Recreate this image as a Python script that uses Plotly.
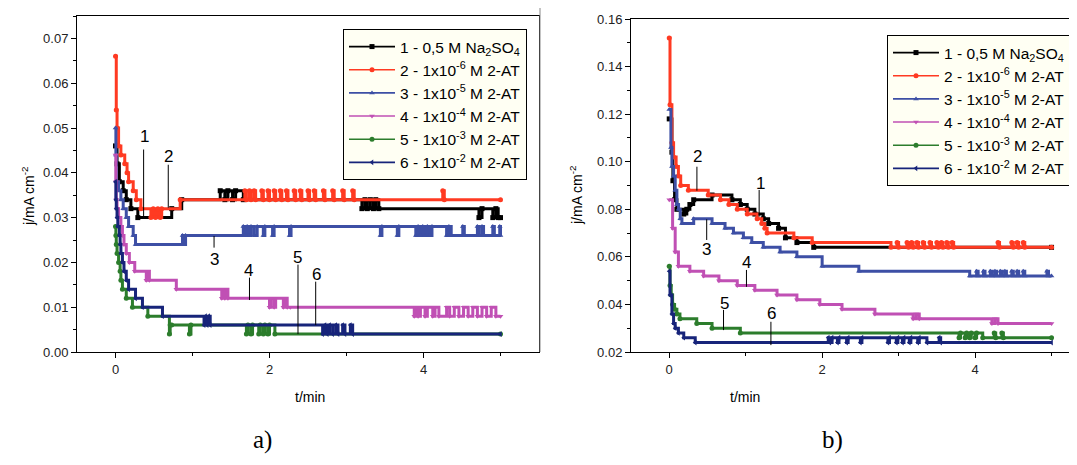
import plotly.graph_objects as go

# ---------------- data : panel a) ----------------
a1_t = [0, 0.02, 0.05, 0.10, 0.14, 0.20, 0.29, 0.73, 0.86, 1.36, 1.42, 1.46, 1.52, 1.56, 1.66,
        3.20, 3.24, 3.27, 3.31, 3.35, 3.38, 3.42, 4.72, 4.76, 4.90, 4.94, 4.97, 5.0]
a1_j = [0.046, 0.042, 0.038, 0.036, 0.034, 0.032, 0.030, 0.032, 0.034, 0.036, 0.034, 0.036, 0.034, 0.036, 0.034,
        0.032, 0.034, 0.032, 0.034, 0.032, 0.034, 0.032, 0.030, 0.032, 0.030, 0.032, 0.030, 0.030]

a2_t = [0, 0.01, 0.02, 0.04, 0.07, 0.12, 0.15, 0.17, 0.23, 0.27, 0.33, 0.46, 0.49, 0.52, 0.55, 0.58, 0.60, 0.84,
        1.68, 1.70, 1.74, 1.76, 1.80, 1.82, 1.90, 1.92, 1.98, 2.00, 2.06, 2.08, 2.14, 2.16, 2.22, 2.24, 2.32, 2.34,
        2.40, 2.42, 2.50, 2.52, 2.58, 2.60, 2.70, 2.72, 2.82, 2.84, 2.95, 2.97, 3.08, 3.10, 4.25, 4.27, 5.0]
a2_j = [0.066, 0.054, 0.050, 0.046, 0.044, 0.042, 0.040, 0.038, 0.036, 0.034, 0.032, 0.030, 0.032, 0.030, 0.032, 0.030, 0.032, 0.034,
        0.036, 0.034, 0.036, 0.034, 0.036, 0.034, 0.036, 0.034, 0.036, 0.034, 0.036, 0.034, 0.036, 0.034, 0.036, 0.034, 0.036, 0.034,
        0.036, 0.034, 0.036, 0.034, 0.036, 0.034, 0.036, 0.034, 0.036, 0.034, 0.036, 0.034, 0.036, 0.034, 0.036, 0.034, 0.034]

a3_t = [0, 0.005, 0.01, 0.04, 0.07, 0.10, 0.14, 0.17, 0.23, 0.26, 0.87, 0.89, 0.91, 1.66, 1.68, 1.71, 1.73, 1.76, 1.80,
        1.84, 1.92, 1.94, 2.04, 2.06, 2.26, 2.28, 3.44, 3.46, 3.66, 3.68, 3.90, 3.93, 3.96, 3.99, 4.02, 4.05, 4.08,
        4.11, 4.30, 4.33, 4.36, 4.51, 4.53, 4.70, 4.72, 4.76, 4.78, 4.90, 4.92, 4.99, 5.0]
a3_j = [0.050, 0.044, 0.038, 0.036, 0.034, 0.032, 0.030, 0.028, 0.026, 0.024, 0.026, 0.024, 0.026, 0.028, 0.026, 0.028, 0.026, 0.028, 0.026,
        0.028, 0.026, 0.028, 0.026, 0.028, 0.026, 0.028, 0.026, 0.028, 0.026, 0.028, 0.026, 0.028, 0.026, 0.028, 0.026, 0.028, 0.026,
        0.028, 0.026, 0.028, 0.026, 0.028, 0.026, 0.028, 0.026, 0.028, 0.026, 0.028, 0.026, 0.028, 0.026]

a4_t = [0, 0.005, 0.01, 0.02, 0.04, 0.07, 0.09, 0.11, 0.14, 0.18, 0.25, 0.40, 0.42, 0.44, 0.79, 1.38, 1.40, 1.42, 1.44, 1.46,
        2.00, 2.02, 2.06, 2.08, 2.18, 2.20, 2.23, 2.27, 3.88, 3.90, 3.93, 3.96, 4.02, 4.05, 4.12, 4.15, 4.20, 4.30, 4.34,
        4.40, 4.46, 4.52, 4.58, 4.64, 4.70, 4.76, 4.82, 4.88, 4.94, 5.0]
a4_j = [0.044, 0.038, 0.034, 0.032, 0.030, 0.028, 0.026, 0.024, 0.022, 0.020, 0.018, 0.016, 0.018, 0.016, 0.014, 0.012, 0.014, 0.012, 0.014, 0.012,
        0.010, 0.012, 0.010, 0.012, 0.010, 0.012, 0.010, 0.010, 0.008, 0.010, 0.008, 0.010, 0.008, 0.010, 0.008, 0.010, 0.008, 0.010, 0.008,
        0.010, 0.008, 0.010, 0.008, 0.010, 0.008, 0.010, 0.008, 0.010, 0.008, 0.008]

a5_t = [0, 0.005, 0.01, 0.02, 0.04, 0.06, 0.07, 0.09, 0.14, 0.22, 0.42, 0.70, 0.71, 0.73, 0.96, 0.98, 1.70, 1.72, 1.76, 1.78,
        1.86, 1.88, 1.92, 1.94, 1.98, 2.00, 2.07, 5.0]
a5_j = [0.028, 0.026, 0.024, 0.022, 0.020, 0.018, 0.016, 0.014, 0.012, 0.010, 0.008, 0.004, 0.006, 0.006, 0.004, 0.006, 0.004, 0.006, 0.004, 0.006,
        0.004, 0.006, 0.004, 0.006, 0.004, 0.006, 0.004, 0.004]

a6_t = [0, 0.005, 0.01, 0.02, 0.03, 0.05, 0.06, 0.07, 0.09, 0.11, 0.14, 0.17, 0.26, 0.35, 0.61, 1.15, 1.17, 1.19, 1.21, 1.23,
        2.69, 2.72, 2.75, 2.78, 2.82, 2.86, 2.89, 2.95, 2.98, 3.05, 3.08, 5.0]
a6_j = [0.038, 0.034, 0.032, 0.030, 0.028, 0.026, 0.024, 0.022, 0.020, 0.018, 0.016, 0.014, 0.012, 0.010, 0.008, 0.006, 0.008, 0.006, 0.008, 0.006,
        0.004, 0.006, 0.004, 0.006, 0.004, 0.006, 0.004, 0.006, 0.004, 0.006, 0.004, 0.004]

# ---------------- data : panel b) ----------------
b1_t = [0, 0.035, 0.048, 0.07, 0.10, 0.19, 0.23, 0.27, 0.32, 0.56, 0.82, 0.93, 1.02, 1.12, 1.23, 1.30, 1.43, 1.52, 1.67, 1.89, 5.0]
b1_j = [0.118, 0.104, 0.092, 0.084, 0.080, 0.078, 0.080, 0.082, 0.084, 0.086, 0.084, 0.082, 0.080, 0.078, 0.076, 0.074, 0.072, 0.068, 0.066, 0.064, 0.064]

b2_t = [0, 0.01, 0.035, 0.057, 0.09, 0.12, 0.15, 0.25, 0.51, 0.67, 0.78, 0.89, 1.02, 1.15, 1.21, 1.25, 1.28, 1.63, 1.87, 2.90,
        2.98, 3.00, 3.11, 3.13, 3.17, 3.19, 3.24, 3.26, 3.32, 3.34, 3.41, 3.43, 3.50, 3.52, 3.56, 3.58, 3.63, 3.65, 3.70, 3.72,
        4.30, 4.32, 4.48, 4.50, 4.55, 4.57, 4.63, 4.65, 5.0]
b2_j = [0.152, 0.124, 0.108, 0.102, 0.098, 0.094, 0.090, 0.088, 0.086, 0.084, 0.082, 0.080, 0.078, 0.076, 0.074, 0.072, 0.070, 0.068, 0.066, 0.064,
        0.066, 0.064, 0.066, 0.064, 0.066, 0.064, 0.066, 0.064, 0.066, 0.064, 0.066, 0.064, 0.066, 0.064, 0.066, 0.064, 0.066, 0.064, 0.066, 0.064,
        0.066, 0.064, 0.066, 0.064, 0.066, 0.064, 0.066, 0.064, 0.064]

b3_t = [0, 0.022, 0.035, 0.057, 0.078, 0.10, 0.122, 0.144, 0.166, 0.32, 0.56, 0.73, 0.84, 0.97, 1.08, 1.23, 1.45, 1.67, 2.00, 2.48,
        3.93, 4.02, 4.04, 4.11, 4.13, 4.20, 4.22, 4.26, 4.28, 4.33, 4.35, 4.39, 4.41, 4.48, 4.50, 4.55, 4.57, 4.63, 4.65, 4.94, 4.96, 5.0]
b3_j = [0.122, 0.106, 0.098, 0.094, 0.088, 0.082, 0.080, 0.076, 0.074, 0.076, 0.074, 0.072, 0.070, 0.068, 0.066, 0.064, 0.062, 0.060, 0.056, 0.054,
        0.052, 0.054, 0.052, 0.054, 0.052, 0.054, 0.052, 0.054, 0.052, 0.054, 0.052, 0.054, 0.052, 0.054, 0.052, 0.054, 0.052, 0.054, 0.052, 0.054, 0.052, 0.052]

b4_t = [0, 0.044, 0.078, 0.12, 0.27, 0.45, 0.65, 0.89, 1.12, 1.41, 1.67, 1.97, 2.26, 2.69, 3.19, 3.23, 3.27, 4.22, 4.26, 4.30, 5.0]
b4_j = [0.084, 0.072, 0.062, 0.056, 0.054, 0.052, 0.050, 0.048, 0.046, 0.044, 0.042, 0.040, 0.038, 0.036, 0.034, 0.036, 0.034, 0.032, 0.034, 0.032, 0.032]

b5_t = [0, 0.01, 0.026, 0.044, 0.07, 0.10, 0.14, 0.36, 0.56, 0.93, 3.79, 3.81, 3.87, 3.89, 3.93, 3.95, 4.00, 4.02, 4.10,
        4.25, 4.27, 4.35, 4.37, 5.0]
b5_j = [0.056, 0.048, 0.044, 0.040, 0.038, 0.036, 0.034, 0.032, 0.030, 0.028, 0.026, 0.028, 0.026, 0.028, 0.026, 0.028, 0.026, 0.028, 0.026,
        0.028, 0.026, 0.028, 0.026, 0.026]

b6_t = [0, 0.01, 0.035, 0.057, 0.078, 0.12, 0.19, 0.34, 2.08, 2.10, 2.13, 2.20, 2.22, 2.32, 2.34, 2.50, 2.52, 2.86, 2.88,
        2.97, 2.99, 3.05, 3.07, 3.14, 3.16, 3.25, 3.27, 3.37, 3.53, 3.55, 5.0]
b6_j = [0.054, 0.044, 0.036, 0.032, 0.030, 0.028, 0.026, 0.024, 0.026, 0.024, 0.026, 0.024, 0.026, 0.024, 0.026, 0.024, 0.026, 0.024, 0.026,
        0.024, 0.026, 0.024, 0.026, 0.024, 0.026, 0.024, 0.026, 0.024, 0.026, 0.024, 0.024]

names = ["1 - 0,5 M Na<sub>2</sub>SO<sub>4</sub>",
         "2 - 1x10<sup>-6</sup> M 2-AT",
         "3 - 1x10<sup>-5</sup> M 2-AT",
         "4 - 1x10<sup>-4</sup> M 2-AT",
         "5 - 1x10<sup>-3</sup> M 2-AT",
         "6 - 1x10<sup>-2</sup> M 2-AT"]
colors = ["#000000", "#FF3A22", "#3D4FA5", "#C050B4", "#2C7D2C", "#17247A"]
symbols = ["square", "circle", "triangle-up", "triangle-down", "circle", "triangle-left"]

series_a = [(a1_t, a1_j), (a2_t, a2_j), (a3_t, a3_j), (a4_t, a4_j), (a5_t, a5_j), (a6_t, a6_j)]
series_b = [(b1_t, b1_j), (b2_t, b2_j), (b3_t, b3_j), (b4_t, b4_j), (b5_t, b5_j), (b6_t, b6_j)]

# label annotations: (text, t_text, j_text, t_line, j_line_top, j_line_bottom)
labels_a = [("1", 0.38, 0.0480, 0.365, 0.0452, 0.0300),
            ("2", 0.69, 0.0437, 0.685, 0.0418, 0.0322),
            ("3", 1.28, 0.0206, 1.28, 0.0259, 0.0233),
            ("4", 1.73, 0.0181, 1.74, 0.0166, 0.0116),
            ("5", 2.37, 0.0210, 2.37, 0.0195, 0.0040),
            ("6", 2.61, 0.0172, 2.60, 0.0157, 0.0060)]
labels_b = [("2", 0.37, 0.1021, 0.362, 0.0979, 0.0878),
            ("1", 1.19, 0.0909, 1.176, 0.0881, 0.0769),
            ("3", 0.49, 0.0629, 0.49, 0.0758, 0.0671),
            ("4", 1.016, 0.0577, 1.01, 0.0545, 0.0474),
            ("5", 0.72, 0.0405, 0.71, 0.0377, 0.0292),
            ("6", 1.34, 0.0363, 1.33, 0.0327, 0.0229)]

# the page body has an 8 px margin, so the figure is drawn 8 px in from the window corner
OFF = 8
W, H = 1077 - OFF, 465 - OFF
FONT = "Liberation Sans, Arial, sans-serif"


def px_x(p):
    return (p - OFF) / W


def px_y(p):
    return 1 - (p - OFF) / H


fig = go.Figure()

for k, (t, j) in enumerate(series_a):
    fig.add_trace(go.Scatter(x=t, y=j, mode="lines+markers", name=names[k], showlegend=False,
                             line=dict(color=colors[k], width=3, shape="hv"),
                             marker=dict(symbol=symbols[k], size=5, color=colors[k]),
                             xaxis="x", yaxis="y"))
for k, (t, j) in enumerate(series_b):
    fig.add_trace(go.Scatter(x=t, y=j, mode="lines+markers", name=names[k], showlegend=False,
                             line=dict(color=colors[k], width=3, shape="hv"),
                             marker=dict(symbol=symbols[k], size=5, color=colors[k]),
                             xaxis="x2", yaxis="y2"))
# legend entries (thin line + marker, as in the reference legends)
for leg, xa, ya in [("legend", "x", "y"), ("legend2", "x2", "y2")]:
    for k in range(6):
        fig.add_trace(go.Scatter(x=[None], y=[None], mode="lines+markers", name=names[k],
                                 line=dict(color=colors[k], width=1.6),
                                 marker=dict(symbol=symbols[k], size=5, color=colors[k]),
                                 xaxis=xa, yaxis=ya, legend=leg, showlegend=True))

axis_common = dict(showline=True, linecolor="black", linewidth=1, ticks="outside", ticklen=5,
                   tickcolor="black", showgrid=False, zeroline=False,
                   tickfont=dict(family=FONT, size=13, color="#222"))

legend_common = dict(xanchor="left", yanchor="top", bgcolor="#FFFFF3", bordercolor="black",
                     borderwidth=1, font=dict(family=FONT, size=15.5, color="black"),
                     tracegroupgap=0, itemwidth=46)

fig.update_layout(
    width=W, height=H, autosize=False,
    margin=dict(l=0, r=0, t=0, b=0, autoexpand=False),
    paper_bgcolor="white", plot_bgcolor="white",
    xaxis=dict(domain=[px_x(77), px_x(539)], range=[-0.5, 5.5], dtick=2, tick0=0,
               minor=dict(ticks="outside", ticklen=3, dtick=1, tick0=0, tickcolor="black"),
               mirror=True, anchor="y", **axis_common),
    yaxis=dict(domain=[px_y(352), px_y(16)], range=[0, 0.075], dtick=0.01, tick0=0, tickformat=".2f",
               minor=dict(ticks="outside", ticklen=3, dtick=0.005, tick0=0, tickcolor="black"),
               mirror=True, anchor="x", **axis_common),
    xaxis2=dict(domain=[px_x(631), 1.0], range=[-0.5, 5.333], dtick=2, tick0=0,
                minor=dict(ticks="outside", ticklen=3, dtick=1, tick0=0, tickcolor="black"),
                mirror=True, anchor="y2", **axis_common),
    yaxis2=dict(domain=[px_y(352), px_y(19)], range=[0.02, 0.16], dtick=0.02, tick0=0, tickformat=".2f",
                minor=dict(ticks="outside", ticklen=3, dtick=0.01, tick0=0, tickcolor="black"),
                mirror=False, anchor="x2", **axis_common),
    legend=dict(x=px_x(343), y=px_y(29), **legend_common),
    legend2=dict(x=px_x(887), y=px_y(35), **legend_common),
    showlegend=True,
)

shapes = []
annotations = []
for (txt, tx, ty, lx, ly0, ly1) in labels_a:
    annotations.append(dict(text=txt, x=tx, y=ty, xref="x", yref="y", showarrow=False,
                            font=dict(family=FONT, size=17, color="black"), xanchor="center", yanchor="middle"))
    shapes.append(dict(type="line", xref="x", yref="y", x0=lx, x1=lx, y0=ly0, y1=ly1,
                       line=dict(color="black", width=1)))
for (txt, tx, ty, lx, ly0, ly1) in labels_b:
    annotations.append(dict(text=txt, x=tx, y=ty, xref="x2", yref="y2", showarrow=False,
                            font=dict(family=FONT, size=17, color="black"), xanchor="center", yanchor="middle"))
    shapes.append(dict(type="line", xref="x2", yref="y2", x0=lx, x1=lx, y0=ly0, y1=ly1,
                       line=dict(color="black", width=1)))

# axis titles & panel labels
for (txt, x, y, ang, size, fam) in [("j/mA cm<sup>-2</sup>", 28, 196, -90, 14, FONT),
                                     ("j/mA cm<sup>-2</sup>", 576, 195, -90, 14, FONT),
                                     ("t/min", 310, 397, 0, 14, FONT),
                                     ("t/min", 745, 397, 0, 14, FONT),
                                     ("a)", 262, 440, 0, 25, "Liberation Serif, Times New Roman, serif"),
                                     ("b)", 832, 440, 0, 25, "Liberation Serif, Times New Roman, serif")]:
    annotations.append(dict(text=txt, x=px_x(x), y=px_y(y), xref="paper", yref="paper", showarrow=False,
                            textangle=ang, font=dict(family=fam, size=size, color="black"),
                            xanchor="center", yanchor="middle"))

# separator between the two panels
shapes.append(dict(type="line", xref="paper", yref="paper", x0=px_x(540), x1=px_x(540),
                   y0=1.0, y1=px_y(352), line=dict(color="#888", width=1)))

fig.update_layout(shapes=shapes, annotations=annotations)
fig.write_html("out.html")
